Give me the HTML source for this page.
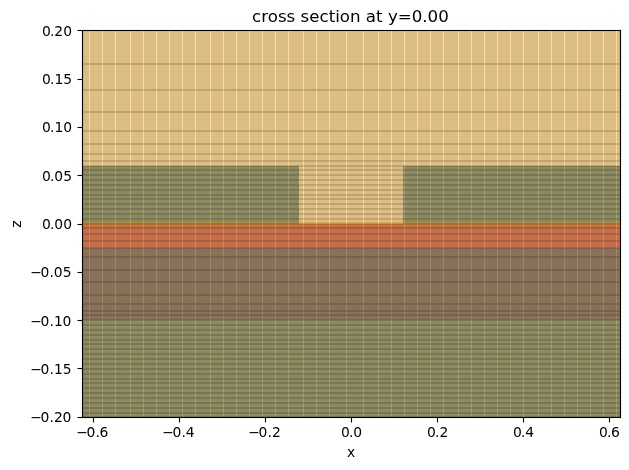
<!DOCTYPE html>
<html lang="en"><head><meta charset="utf-8"><title>cross section at y=0.00</title>
<style>
html,body{margin:0;padding:0;background:#fff;}
body{width:629px;height:470px;overflow:hidden;}
svg{display:block;}
text{font-family:"DejaVu Sans","Liberation Sans",sans-serif;fill:#000;}
.tk{font-size:13.889px;}
.tt{font-size:16.667px;}
</style></head><body>
<svg width="629" height="470" viewBox="0 0 629 470">
<rect x="0" y="0" width="629" height="470" fill="#fff"/>
<defs><clipPath id="ax"><rect x="82" y="30" width="539" height="388"/></clipPath></defs>
<g clip-path="url(#ax)" shape-rendering="crispEdges">
<g id="structures">
<rect x="82" y="320" width="539" height="98" fill="#689DBC"/>
<rect x="82" y="248" width="539" height="72" fill="#5E6EAD"/>
<rect x="82" y="224" width="539" height="24" fill="#D0698E"/>
<rect x="82" y="166" width="217" height="58" fill="#689DBC"/>
<rect x="403" y="166" width="218" height="58" fill="#689DBC"/>
</g>
<g id="monitors" fill="#FFA500" fill-opacity="0.4">
<rect x="82" y="30" width="539" height="388"/>
<rect x="82" y="221.9167" width="539" height="4.1667" shape-rendering="geometricPrecision"/>
</g>
<g id="gridx" fill="#000" fill-opacity="0.1389">
<rect x="82" y="30" width="7" height="388"/>
<rect x="90" y="30" width="12" height="388"/>
<rect x="103" y="30" width="12" height="388"/>
<rect x="116" y="30" width="14" height="388"/>
<rect x="131" y="30" width="12" height="388"/>
<rect x="144" y="30" width="12" height="388"/>
<rect x="157" y="30" width="12" height="388"/>
<rect x="170" y="30" width="12" height="388"/>
<rect x="183" y="30" width="12" height="388"/>
<rect x="196" y="30" width="14" height="388"/>
<rect x="211" y="30" width="12" height="388"/>
<rect x="224" y="30" width="12" height="388"/>
<rect x="237" y="30" width="12" height="388"/>
<rect x="250" y="30" width="12" height="388"/>
<rect x="263" y="30" width="12" height="388"/>
<rect x="276" y="30" width="12" height="388"/>
<rect x="289" y="30" width="14" height="388"/>
<rect x="304" y="30" width="12" height="388"/>
<rect x="317" y="30" width="12" height="388"/>
<rect x="330" y="30" width="16" height="388"/>
<rect x="347" y="30" width="16" height="388"/>
<rect x="364" y="30" width="14" height="388"/>
<rect x="379" y="30" width="12" height="388"/>
<rect x="392" y="30" width="12" height="388"/>
<rect x="405" y="30" width="12" height="388"/>
<rect x="418" y="30" width="12" height="388"/>
<rect x="431" y="30" width="12" height="388"/>
<rect x="444" y="30" width="14" height="388"/>
<rect x="459" y="30" width="12" height="388"/>
<rect x="472" y="30" width="12" height="388"/>
<rect x="485" y="30" width="12" height="388"/>
<rect x="498" y="30" width="12" height="388"/>
<rect x="511" y="30" width="12" height="388"/>
<rect x="524" y="30" width="14" height="388"/>
<rect x="539" y="30" width="12" height="388"/>
<rect x="552" y="30" width="12" height="388"/>
<rect x="565" y="30" width="12" height="388"/>
<rect x="578" y="30" width="12" height="388"/>
<rect x="591" y="30" width="12" height="388"/>
<rect x="604" y="30" width="12" height="388"/>
<rect x="617" y="30" width="4" height="388"/>
</g>
<g id="gridz" fill="#000" fill-opacity="0.1389">
<rect x="82" y="63" width="539" height="2"/>
<rect x="82" y="89" width="539" height="2"/>
<rect x="82" y="111" width="539" height="2"/>
<rect x="82" y="130" width="539" height="2"/>
<rect x="82" y="143" width="539" height="2"/>
<rect x="82" y="153" width="539" height="2"/>
<rect x="82" y="160" width="539" height="2"/>
<rect x="82" y="165" width="539" height="2"/>
<rect x="82" y="169" width="539" height="2"/>
<rect x="82" y="174" width="539" height="2"/>
<rect x="82" y="179" width="539" height="2"/>
<rect x="82" y="184" width="539" height="2"/>
<rect x="82" y="189" width="539" height="2"/>
<rect x="82" y="194" width="539" height="2"/>
<rect x="82" y="198" width="539" height="2"/>
<rect x="82" y="203" width="539" height="2"/>
<rect x="82" y="208" width="539" height="2"/>
<rect x="82" y="213" width="539" height="2"/>
<rect x="82" y="218" width="539" height="2"/>
<rect x="82" y="223" width="539" height="2"/>
<rect x="82" y="227" width="539" height="2"/>
<rect x="82" y="233" width="539" height="2"/>
<rect x="82" y="240" width="539" height="2"/>
<rect x="82" y="247" width="539" height="2"/>
<rect x="82" y="256" width="539" height="2"/>
<rect x="82" y="269" width="539" height="2"/>
<rect x="82" y="281" width="539" height="2"/>
<rect x="82" y="294" width="539" height="2"/>
<rect x="82" y="303" width="539" height="2"/>
<rect x="82" y="310" width="539" height="2"/>
<rect x="82" y="314" width="539" height="2"/>
<rect x="82" y="319" width="539" height="2"/>
<rect x="82" y="324" width="539" height="2"/>
<rect x="82" y="329" width="539" height="2"/>
<rect x="82" y="334" width="539" height="2"/>
<rect x="82" y="339" width="539" height="2"/>
<rect x="82" y="343" width="539" height="2"/>
<rect x="82" y="348" width="539" height="2"/>
<rect x="82" y="353" width="539" height="2"/>
<rect x="82" y="358" width="539" height="2"/>
<rect x="82" y="363" width="539" height="2"/>
<rect x="82" y="368" width="539" height="2"/>
<rect x="82" y="373" width="539" height="2"/>
<rect x="82" y="378" width="539" height="2"/>
<rect x="82" y="382" width="539" height="2"/>
<rect x="82" y="387" width="539" height="2"/>
<rect x="82" y="392" width="539" height="2"/>
<rect x="82" y="397" width="539" height="2"/>
<rect x="82" y="402" width="539" height="2"/>
<rect x="82" y="407" width="539" height="2"/>
<rect x="82" y="412" width="539" height="2"/>
<rect x="82" y="416" width="539" height="2"/>
</g>
</g>
<g id="ticks" stroke="#000" stroke-width="1.111" fill="none">
<line x1="93.5" y1="417.5" x2="93.5" y2="422.50"/>
<line x1="179.5" y1="417.5" x2="179.5" y2="422.50"/>
<line x1="265.5" y1="417.5" x2="265.5" y2="422.50"/>
<line x1="351.5" y1="417.5" x2="351.5" y2="422.50"/>
<line x1="437.5" y1="417.5" x2="437.5" y2="422.50"/>
<line x1="523.5" y1="417.5" x2="523.5" y2="422.50"/>
<line x1="609.5" y1="417.5" x2="609.5" y2="422.50"/>
<line x1="82.5" y1="30.5" x2="77.50" y2="30.5"/>
<line x1="82.5" y1="79.5" x2="77.50" y2="79.5"/>
<line x1="82.5" y1="127.5" x2="77.50" y2="127.5"/>
<line x1="82.5" y1="175.5" x2="77.50" y2="175.5"/>
<line x1="82.5" y1="224.5" x2="77.50" y2="224.5"/>
<line x1="82.5" y1="272.5" x2="77.50" y2="272.5"/>
<line x1="82.5" y1="320.5" x2="77.50" y2="320.5"/>
<line x1="82.5" y1="368.5" x2="77.50" y2="368.5"/>
<line x1="82.5" y1="417.5" x2="77.50" y2="417.5"/>
</g>
<g id="spines" fill="#000">
<rect x="81.9445" y="29.9445" width="1.111" height="388.1110"/>
<rect x="619.9445" y="29.9445" width="1.111" height="388.1110"/>
<rect x="81.9445" y="416.9445" width="539.1110" height="1.111"/>
<rect x="81.9445" y="29.9445" width="539.1110" height="1.111"/>
</g>
<g class="tk">
<text x="76.16 86.52 95.46 99.58" y="437.00">−0.6</text>
<text x="162.16 172.52 181.46 185.81" y="437.00">−0.4</text>
<text x="248.16 258.52 267.46 271.90" y="437.00">−0.2</text>
<text x="340.99 348.92 353.25" y="437.00">0.0</text>
<text x="426.99 434.92 439.43" y="437.00">0.2</text>
<text x="512.99 520.92 525.14" y="437.00">0.4</text>
<text x="598.99 606.92 610.96" y="437.00">0.6</text>
<text x="42.04 49.89 54.26 63.18" y="36.00">0.20</text>
<text x="42.04 49.89 54.38 63.22" y="84.00">0.15</text>
<text x="42.04 49.89 54.38 63.18" y="132.00">0.10</text>
<text x="42.04 49.89 54.30 63.22" y="181.00">0.05</text>
<text x="42.04 49.89 54.30 63.18" y="229.00">0.00</text>
<text x="30.15 40.50 49.55 53.78 62.77" y="277.00">−0.05</text>
<text x="30.15 40.50 49.55 53.96 62.61" y="326.00">−0.10</text>
<text x="30.15 40.50 49.55 53.96 62.77" y="374.00">−0.15</text>
<text x="30.15 40.50 49.55 54.05 62.61" y="422.00">−0.20</text>
<text x="347.09" y="457.00">x</text>
<text transform="translate(20.60 227.70) rotate(-90)">z</text>
</g>
<text class="tt" text-anchor="middle" x="350.45" y="21.70">cross section at y=0.00</text>
</svg>
</body></html>
